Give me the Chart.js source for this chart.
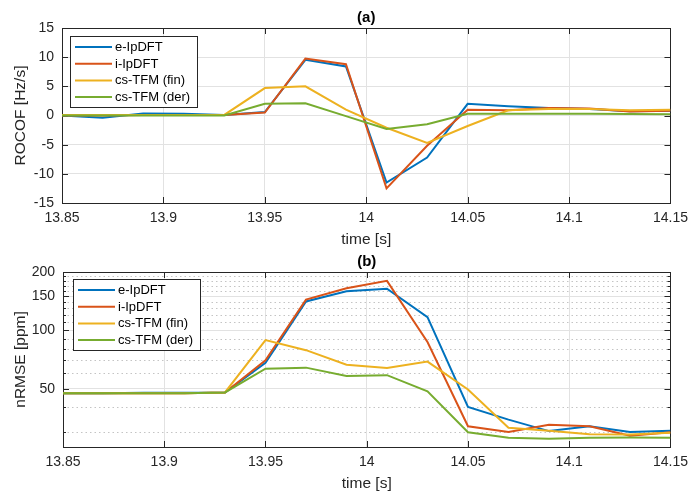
<!DOCTYPE html>
<html><head><meta charset="utf-8">
<script src="https://cdn.jsdelivr.net/npm/chart.js@4/dist/chart.umd.min.js"></script>
<style>
html,body{margin:0;padding:0;background:#fff;overflow:hidden;width:695px;height:491px;}
.wrap{position:absolute;left:0;width:695px;height:250px;}
#w1{top:0}
#w2{top:244px}
</style></head><body>
<div class="wrap" id="w1"><canvas id="c1" width="695" height="250"></canvas></div>
<div class="wrap" id="w2"><canvas id="c2" width="695" height="250"></canvas></div>
<script>
// ---------- data ----------
const seriesNames = ['e-IpDFT', 'i-IpDFT', 'cs-TFM (fin)', 'cs-TFM (der)'];
const time = [13.85, 13.87, 13.89, 13.91, 13.93, 13.95, 13.97, 13.99, 14.01, 14.03, 14.05, 14.07, 14.09, 14.11, 14.13, 14.15];
const timeTicks = [13.85, 13.9, 13.95, 14, 14.05, 14.1, 14.15];

// (a) ROCOF [Hz/s]
const rocofE   = [0.0, -0.4, 0.35, 0.3, 0.1, 0.6, 9.55, 8.4, -11.5, -7.2, 2.0, 1.6, 1.3, 1.1, 0.75, 0.8];
const rocofI   = [0.0, 0.0, 0.1, 0.1, 0.1, 0.5, 9.75, 8.8, -12.5, -5.2, 1.0, 0.9, 1.3, 1.2, 0.7, 0.8];
const rocofFin = [0.1, 0.1, 0.1, 0.1, 0.1, 4.7, 5.0, 1.0, -2.1, -4.7, -1.8, 0.9, 1.1, 1.1, 0.9, 1.0];
const rocofDer = [0.0, 0.0, 0.0, 0.0, 0.0, 2.0, 2.1, -0.1, -2.3, -1.5, 0.3, 0.3, 0.3, 0.3, 0.25, 0.2];
const rocofTicks = [-15, -10, -5, 0, 5, 10, 15];

// (b) nRMSE [ppm]
const rmseE   = [47.3, 47.3, 47.6, 47.6, 47.8, 68, 141, 159, 164, 117, 40.2, 34.6, 30.2, 32.0, 29.9, 30.3];
const rmseI   = [47.3, 47.3, 47.4, 47.4, 47.8, 70, 144, 165, 180, 87, 32.0, 29.9, 32.6, 32.0, 28.6, 29.8];
const rmseFin = [47.3, 47.3, 47.4, 47.4, 47.8, 89, 79, 66.5, 64, 69, 49.5, 31.4, 30.3, 29.1, 29.0, 29.6];
const rmseDer = [47.3, 47.3, 47.4, 47.4, 47.8, 63.4, 64.2, 58.2, 58.7, 48.4, 29.8, 27.9, 27.6, 27.9, 28.0, 27.9];
const rmseTicks = [50, 100, 150, 200];
const rmseMinorTicks = [30, 40, 60, 70, 80, 90, 110, 120, 130, 140, 160, 170, 180, 190];

// ---------- styling ----------
const colors = ['#0072BD', '#D95319', '#EDB120', '#77AC30'];
const FONT = '"Liberation Sans", Arial, Helvetica, sans-serif';
const INK = '#262626';
const GRID = '#e2e2e2';

function makeDatasets(valueArrays) {
  return valueArrays.map((vals, i) => ({
    label: seriesNames[i],
    data: vals.map((v, k) => ({x: time[k], y: v})),
    borderColor: colors[i],
    backgroundColor: colors[i],
    borderWidth: 2,
    pointRadius: 0,
    tension: 0,
    fill: false,
    order: 3 - i
  }));
}

const framePlugin = {
  id: 'frame',
  beforeDatasetsDraw(chart, args, opts) {
    const {ctx, chartArea: a, scales: {x, y}} = chart;
    ctx.save();
    // minor dotted grid
    ctx.strokeStyle = '#c4c4c4';
    ctx.lineWidth = 1;
    ctx.setLineDash([1.5, 3]);
    (opts.minorY || []).forEach(v => {
      const py = Math.round(y.getPixelForValue(v)) + 0.5;
      ctx.beginPath(); ctx.moveTo(a.left, py); ctx.lineTo(a.right, py); ctx.stroke();
    });
    ctx.setLineDash([]);
    // box
    ctx.strokeStyle = INK;
    ctx.lineWidth = 1;
    ctx.strokeRect(Math.round(a.left) + 0.5, Math.round(a.top) + 0.5, Math.round(a.right - a.left), Math.round(a.bottom - a.top));
    // inward tick marks
    ctx.beginPath();
    x.ticks.forEach(t => {
      const px = Math.round(x.getPixelForValue(t.value)) + 0.5;
      ctx.moveTo(px, a.bottom); ctx.lineTo(px, a.bottom - 6);
      ctx.moveTo(px, a.top); ctx.lineTo(px, a.top + 6);
    });
    y.ticks.forEach(t => {
      const py = Math.round(y.getPixelForValue(t.value)) + 0.5;
      ctx.moveTo(a.left, py); ctx.lineTo(a.left + 6, py);
      ctx.moveTo(a.right, py); ctx.lineTo(a.right - 6, py);
    });
    (opts.minorY || []).forEach(v => {
      const py = Math.round(y.getPixelForValue(v)) + 0.5;
      ctx.moveTo(a.left, py); ctx.lineTo(a.left + 3, py);
      ctx.moveTo(a.right, py); ctx.lineTo(a.right - 3, py);
    });
    ctx.stroke();
    ctx.restore();
  }
};

const boxLegendPlugin = {
  id: 'boxLegend',
  afterDatasetsDraw(chart, args, opts) {
    const {ctx, chartArea: a} = chart;
    const x0 = Math.round(a.left + opts.dx), y0 = Math.round(a.top + opts.dy);
    const w = 127, h = 71;
    ctx.save();
    ctx.fillStyle = '#fff';
    ctx.fillRect(x0, y0, w, h);
    ctx.strokeStyle = INK; ctx.lineWidth = 1;
    ctx.strokeRect(x0 + 0.5, y0 + 0.5, w, h);
    ctx.font = '13px ' + FONT;
    ctx.textBaseline = 'middle';
    ctx.textAlign = 'left';
    chart.data.datasets.forEach((ds, i) => {
      const yy = y0 + 11 + i * 16.7;
      ctx.strokeStyle = ds.borderColor; ctx.lineWidth = 2;
      ctx.beginPath(); ctx.moveTo(x0 + 5, yy); ctx.lineTo(x0 + 42, yy); ctx.stroke();
      ctx.fillStyle = '#000';
      ctx.fillText(ds.label, x0 + 45, yy + 0.5);
    });
    ctx.restore();
  }
};

function makeOptions(cfg) {
  return {
    responsive: false,
    animation: false,
    devicePixelRatio: 1,
    layout: {padding: {left: 0, right: 695 - cfg.right, top: 0, bottom: 0}},
    plugins: {
      legend: {display: false},
      tooltip: {enabled: false},
      title: {display: true, text: cfg.title, fullSize: false, color: '#000',
              font: {family: FONT, size: 15, weight: 'bold'}, padding: {top: 9, bottom: 1}},
      boxLegend: {dx: cfg.legDx, dy: cfg.legDy},
      frame: {minorY: cfg.minorY || []}
    },
    scales: {
      x: {
        type: 'linear', min: time[0], max: time[time.length - 1],
        afterBuildTicks: s => { s.ticks = timeTicks.map(v => ({value: v})); },
        afterFit: s => { s.height = 47; },
        grid: {color: GRID, drawTicks: false},
        border: {display: false},
        ticks: {color: INK, font: {family: FONT, size: 14}, padding: 7, maxRotation: 0, autoSkip: false,
                callback: v => String(v)},
        title: {display: true, text: 'time [s]', color: INK, font: {family: FONT, size: 15.5},
                padding: {top: 0, bottom: 1.2}}
      },
      y: Object.assign({
        afterBuildTicks: s => { s.ticks = cfg.yTicks.map(v => ({value: v})); },
        afterFit: s => { s.width = cfg.left; },
        grid: {color: GRID, drawTicks: false},
        border: {display: false},
        ticks: {color: INK, font: {family: FONT, size: 14}, padding: 8, autoSkip: false,
                callback: v => String(v)},
        title: {display: true, text: cfg.yTitle, color: INK, font: {family: FONT, size: 15.5},
                padding: {top: 11, bottom: 0}}
      }, cfg.yScale)
    }
  };
}

new Chart(document.getElementById('c1'), {
  type: 'line',
  data: {datasets: makeDatasets([rocofE, rocofI, rocofFin, rocofDer])},
  options: makeOptions({
    title: '(a)', right: 676, left: 62, legDx: 8, legDy: 8,
    yTitle: 'ROCOF [Hz/s]', yTicks: rocofTicks,
    yScale: {type: 'linear', min: rocofTicks[0], max: rocofTicks[rocofTicks.length - 1]}
  }),
  plugins: [framePlugin, boxLegendPlugin]
});

new Chart(document.getElementById('c2'), {
  type: 'line',
  data: {datasets: makeDatasets([rmseE, rmseI, rmseFin, rmseDer])},
  options: makeOptions({
    title: '(b)', right: 676, left: 63, legDx: 10, legDy: 7,
    yTitle: 'nRMSE [ppm]', yTicks: rmseTicks, minorY: rmseMinorTicks,
    yScale: {type: 'logarithmic', min: 25, max: 200}
  }),
  plugins: [framePlugin, boxLegendPlugin]
});
</script>
</body></html>
